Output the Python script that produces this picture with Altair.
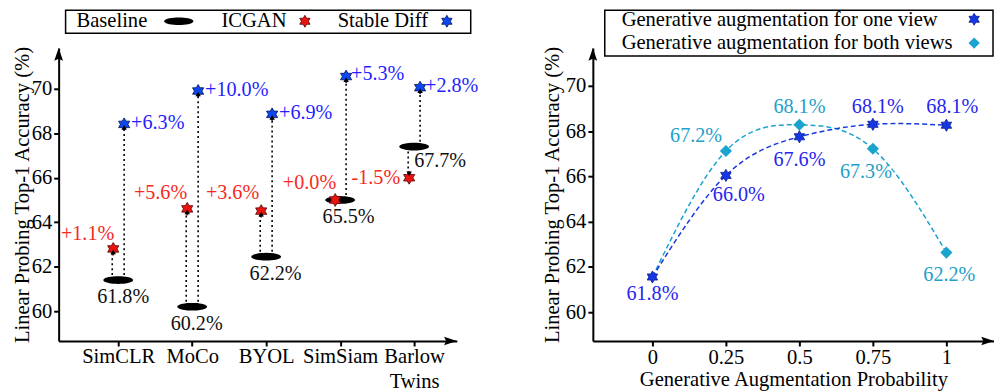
import json
import numpy as np
import pandas as pd
import altair as alt

# ---------------- data ----------------
methods = ["SimCLR", "MoCo", "BYOL", "SimSiam", "Barlow Twins"]
baseline = [61.4, 60.2, 62.45, 65.0, 67.4]
baseline_text = ["61.8%", "60.2%", "62.2%", "65.5%", "67.7%"]
icgan = [62.8, 64.6, 64.5, 65.0, 66.0]
icgan_text = ["+1.1%", "+5.6%", "+3.6%", "+0.0%", "-1.5%"]
stable = [68.4, 69.9, 68.85, 70.55, 70.05]
stable_text = ["+6.3%", "+10.0%", "+6.9%", "+5.3%", "+2.8%"]

probs = [0, 0.25, 0.5, 0.75, 1.0]
prob_labels = ["0", "0.25", "0.5", "0.75", "1"]
one_view = [61.55, 66.04, 67.75, 68.3, 68.26]
one_view_text = ["61.8%", "66.0%", "67.6%", "68.1%", "68.1%"]
both_views = [61.55, 67.12, 68.28, 67.22, 62.63]
both_views_text = ["", "67.2%", "68.1%", "67.3%", "62.2%"]

# ---------------- style ----------------
FONT = "Liberation Serif"
FS = 20.7
FS_A = 20.3
YTITLE = "Linear Probing Top-1 Accuracy (%)"
RED = "#e8140f"
RED_T = "#f52a1c"
BLUE = "#0c48f2"
BLUE_T = "#1f1fff"
OV = "#1636e2"
OV_T = "#2626ee"
BV = "#1ba3cf"
BV_T = "#1f9fc9"


def star_path(n=6, inner=0.58):
    pts = []
    for k in range(2 * n):
        a = -np.pi / 2 + k * np.pi / n
        r = 1.0 if k % 2 == 0 else inner
        pts.append((r * np.cos(a), r * np.sin(a)))
    return "M" + " L".join(f"{x:.3f},{y:.3f}" for x, y in pts) + " Z"


def ellipse_path(ry=0.26, n=36):
    pts = [(np.cos(t), ry * np.sin(t)) for t in np.linspace(0, 2 * np.pi, n, endpoint=False)]
    return "M" + " L".join(f"{x:.3f},{y:.3f}" for x, y in pts) + " Z"


STAR = star_path()
ELLIPSE = ellipse_path()
ARROW_UP = "M0,-1 L0.55,0.6 L0,0.35 L-0.55,0.6 Z"
ARROW_RIGHT = "M1,0 L-0.6,0.55 L-0.35,0 L-0.6,-0.55 Z"

W_L, W_R, H = 401, 404, 295

one_row = pd.DataFrame({"k": [0]})

# ---------------- left panel ----------------
dl = pd.DataFrame({
    "i": list(range(len(methods))),
    "base": baseline, "btxt": baseline_text,
    "ic": icgan, "ictxt": icgan_text,
    "sd": stable, "sdtxt": stable_text,
})

labels_js = json.dumps([m.split(" ") for m in methods])
XL = dict(scale=alt.Scale(domain=[-0.805, 4.577], nice=False, zero=False),
          axis=alt.Axis(values=list(range(len(methods))), labelExpr=f"{labels_js}[datum.value]",
                        title=None, labelLineHeight=25, labelPadding=1))


def yl(field, pad=-1, dom=(58.66, 71.83)):
    return alt.Y(f"{field}:Q", scale=alt.Scale(domain=list(dom), nice=False, zero=False),
                 axis=alt.Axis(values=list(range(60, 71, 2)), title=YTITLE, titlePadding=pad))


base = alt.Chart(dl)

rule_red = base.mark_rule(strokeDash=[2, 3], strokeWidth=1.6, color="black", xOffset=-6).encode(
    x=alt.X("i:Q", **XL), y=yl("base"), y2="ic:Q")
rule_blue = base.mark_rule(strokeDash=[2, 3], strokeWidth=1.6, color="black", xOffset=6).encode(
    x=alt.X("i:Q", **XL), y=yl("base"), y2="sd:Q")
ell = base.mark_point(shape=ELLIPSE, size=900, filled=True, color="black", opacity=1).encode(
    x=alt.X("i:Q", **XL), y=yl("base"))
red_st = base.mark_point(shape=STAR, size=169, filled=True, fill=RED, stroke="#550000",
                         strokeWidth=0.8, opacity=1, xOffset=-5).encode(
    x=alt.X("i:Q", **XL), y=yl("ic"))
blue_st = base.mark_point(shape=STAR, size=169, filled=True, fill=BLUE, stroke="#001050",
                          strokeWidth=0.8, opacity=1, xOffset=6).encode(
    x=alt.X("i:Q", **XL), y=yl("sd"))
tri_blue = base.mark_point(shape="triangle-up", size=30, filled=True, color="black", opacity=1,
                           xOffset=6, yOffset=3).encode(x=alt.X("i:Q", **XL), y=yl("sd"))
tri_red_up = base.mark_point(shape="triangle-up", size=30, filled=True, color="black", opacity=1,
                             xOffset=-5, yOffset=3).encode(
    x=alt.X("i:Q", **XL), y=yl("ic")).transform_filter("datum.ic > datum.base")
tri_red_dn = base.mark_point(shape="triangle-down", size=30, filled=True, color="black", opacity=1,
                             xOffset=-5, yOffset=-4).encode(
    x=alt.X("i:Q", **XL), y=yl("ic")).transform_filter("datum.ic < datum.base")

left_layers = [rule_red, rule_blue, ell, red_st, blue_st, tri_blue, tri_red_up, tri_red_dn]

# baseline labels (dx, dy, align)
b_off = [(5, 17, "center"), (4.5, 17, "center"), (9.5, 17, "center"), (8.5, 17, "center"), (0, 15, "left")]
for k, (dx, dy, al) in enumerate(b_off):
    left_layers.append(base.mark_text(font=FONT, fontSize=FS_A, color="#111", align=al, baseline="middle",
                                      dx=dx, dy=dy).encode(
        x=alt.X("i:Q", **XL), y=yl("base"), text="btxt:N").transform_filter(f"datum.i == {k}"))
# icgan labels
r_off = [(1, -15), (0, -16), (-2, -18), (1, -17), (-9, 0)]
for k, (dx, dy) in enumerate(r_off):
    left_layers.append(base.mark_text(font=FONT, fontSize=FS_A, color=RED_T, align="right", baseline="middle",
                                      xOffset=-5, dx=dx, dy=dy).encode(
        x=alt.X("i:Q", **XL), y=yl("ic"), text="ictxt:N").transform_filter(f"datum.i == {k}"))
# stable diffusion labels
s_off = [(7, -1), (7, -1), (7, -1), (5, -3), (5, -2)]
for k, (dx, dy) in enumerate(s_off):
    left_layers.append(base.mark_text(font=FONT, fontSize=FS_A, color=BLUE_T, align="left", baseline="middle",
                                      xOffset=6, dx=dx, dy=dy).encode(
        x=alt.X("i:Q", **XL), y=yl("sd"), text="sdtxt:N").transform_filter(f"datum.i == {k}"))

# legend (left) -- one-row data so each element is drawn once
leg = alt.Chart(one_row)
left_layers += [
    leg.mark_rect(fill="white", stroke="black", strokeWidth=1.5).encode(
        x=alt.value(7), x2=alt.value(415), y=alt.value(-38), y2=alt.value(-15)),
    leg.mark_text(font=FONT, fontSize=FS, align="left", baseline="middle", color="black").encode(
        x=alt.value(18), y=alt.value(-27), text=alt.value("Baseline")),
    leg.mark_point(shape=ELLIPSE, size=870, filled=True, color="black", opacity=1).encode(
        x=alt.value(121), y=alt.value(-27)),
    leg.mark_text(font=FONT, fontSize=FS, align="left", baseline="middle", color="black").encode(
        x=alt.value(164), y=alt.value(-27), text=alt.value("ICGAN")),
    leg.mark_point(shape=STAR, size=144, filled=True, fill=RED, stroke="#550000", strokeWidth=0.8,
                   opacity=1).encode(x=alt.value(248), y=alt.value(-27)),
    leg.mark_text(font=FONT, fontSize=FS, align="left", baseline="middle", color="black").encode(
        x=alt.value(281), y=alt.value(-27), text=alt.value("Stable Diff")),
    leg.mark_point(shape=STAR, size=144, filled=True, fill=BLUE, stroke="#001050", strokeWidth=0.8,
                   opacity=1).encode(x=alt.value(391), y=alt.value(-27)),
    # axis arrows
    leg.mark_point(shape=ARROW_UP, size=256, filled=True, color="black", opacity=1).encode(
        x=alt.value(0), y=alt.value(8)),
    leg.mark_point(shape=ARROW_RIGHT, size=256, filled=True, color="black", opacity=1).encode(
        x=alt.value(W_L - 8), y=alt.value(H)),
    # invisible frame fixing the overall bounds of the figure
    leg.mark_rect(opacity=0).encode(
        x=alt.value(-51), x2=alt.value(942), y=alt.value(-39), y2=alt.value(343)),
]

left = alt.layer(*left_layers).properties(width=W_L, height=H)

# ---------------- right panel ----------------
dr = pd.DataFrame({"p": probs, "one": one_view, "onet": one_view_text,
                   "both": both_views, "botht": both_views_text})
XR = dict(scale=alt.Scale(domain=[-0.2027, 1.162], nice=False, zero=False),
          axis=alt.Axis(values=probs, labelExpr=f"{json.dumps(prob_labels)}[round(datum.value * 4)]",
                        title="Generative Augmentation Probability",
                        titlePadding=2, labelPadding=2))
YR_DOM = (58.72, 71.67)
PR = 3

rb = alt.Chart(dr)
right_layers = [
    rb.mark_line(interpolate="natural", strokeDash=[5, 3], strokeWidth=1.5, color=BV).encode(
        x=alt.X("p:Q", **XR), y=yl("both", PR, YR_DOM)),
    rb.mark_line(interpolate="natural", strokeDash=[5, 3], strokeWidth=1.5, color=OV).encode(
        x=alt.X("p:Q", **XR), y=yl("one", PR, YR_DOM)),
    rb.mark_point(shape="diamond", size=150, filled=True, color=BV, opacity=1).encode(
        x=alt.X("p:Q", **XR), y=yl("both", PR, YR_DOM)).transform_filter("datum.p > 0"),
    rb.mark_point(shape=STAR, size=150, filled=True, fill=OV, stroke="#0a1a90", strokeWidth=0.8,
                  opacity=1).encode(x=alt.X("p:Q", **XR), y=yl("one", PR, YR_DOM)),
]
o_off = [(0, 17), (13, 20), (0, 23), (5, -17), (6, -18)]
for k, (dx, dy) in enumerate(o_off):
    right_layers.append(rb.mark_text(font=FONT, fontSize=FS_A, color=OV_T, align="center", baseline="middle",
                                     dx=dx, dy=dy).encode(
        x=alt.X("p:Q", **XR), y=yl("one", PR, YR_DOM), text="onet:N").transform_filter(
        f"datum.p == {probs[k]}"))
b2_off = [None, (-30, -15), (0, -18), (-7, 23), (3, 23)]
for k, off in enumerate(b2_off):
    if off is None:
        continue
    dx, dy = off
    right_layers.append(rb.mark_text(font=FONT, fontSize=FS_A, color=BV_T, align="center", baseline="middle",
                                     dx=dx, dy=dy).encode(
        x=alt.X("p:Q", **XR), y=yl("both", PR, YR_DOM), text="botht:N").transform_filter(
        f"datum.p == {probs[k]}"))

rl = alt.Chart(one_row)
right_layers += [
    rl.mark_rect(fill="white", stroke="black", strokeWidth=1.5).encode(
        x=alt.value(12), x2=alt.value(403), y=alt.value(-38), y2=alt.value(8)),
    rl.mark_text(font=FONT, fontSize=FS, align="left", baseline="middle", color="black").encode(
        x=alt.value(29), y=alt.value(-28), text=alt.value("Generative augmentation for one view")),
    rl.mark_text(font=FONT, fontSize=FS, align="left", baseline="middle", color="black").encode(
        x=alt.value(29), y=alt.value(-5), text=alt.value("Generative augmentation for both views")),
    rl.mark_point(shape=STAR, size=144, filled=True, fill=OV, stroke="#0a1a90", strokeWidth=0.8,
                  opacity=1).encode(x=alt.value(384), y=alt.value(-29)),
    rl.mark_point(shape="diamond", size=130, filled=True, color=BV, opacity=1).encode(
        x=alt.value(384), y=alt.value(-5)),
    rl.mark_point(shape=ARROW_UP, size=256, filled=True, color="black", opacity=1).encode(
        x=alt.value(0), y=alt.value(8)),
    rl.mark_point(shape=ARROW_RIGHT, size=256, filled=True, color="black", opacity=1).encode(
        x=alt.value(W_R - 8), y=alt.value(H)),
]

right = alt.layer(*right_layers).properties(width=W_R, height=H)

chart = alt.hconcat(left, right, spacing=137, bounds="flush").properties(
    padding=0
).configure_axis(
    labelFont=FONT, labelFontSize=FS, labelColor="black",
    titleFont=FONT, titleFontSize=FS, titleFontWeight="normal", titleColor="black",
    domainColor="black", domainWidth=2, tickColor="black", tickWidth=2, tickSize=5,
    grid=False,
).configure_view(stroke=None)

chart.save("out.html", embed_options={"renderer": "svg", "actions": False})
